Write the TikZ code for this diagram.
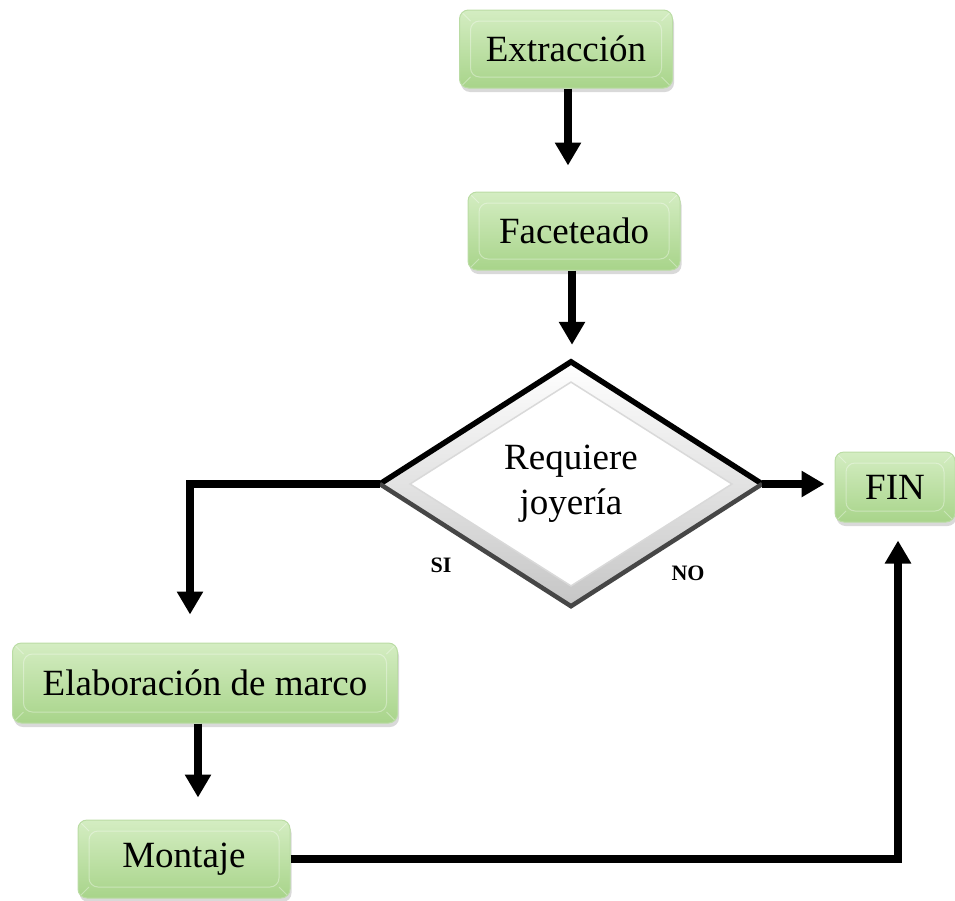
\documentclass[tikz,border=0pt]{standalone}
\usepackage{fontspec}
\setmainfont{Liberation Serif}
\usetikzlibrary{arrows.meta,shapes.geometric,shadows,calc}
\definecolor{gtop}{RGB}{212,237,194}
\definecolor{gbot}{RGB}{168,212,138}
\definecolor{gedge}{RGB}{186,220,164}
\tikzset{
  procbox/.style={rectangle, rounded corners=9pt, top color=gtop, bottom color=gbot,
    draw=gedge, line width=1pt, inner sep=0pt,
    font=\fontsize{37}{44}\selectfont,
    drop shadow={opacity=0.3, shadow xshift=1.5pt, shadow yshift=-4pt},
    path picture={
      \draw[white, opacity=0.35, line width=1pt]
        ([shift={(11pt,-11pt)}]path picture bounding box.north west) rectangle
        ([shift={(-11pt,11pt)}]path picture bounding box.south east);
      \draw[white, opacity=0.35, line width=0.8pt]
        (path picture bounding box.north west) -- ++(11pt,-11pt)
        (path picture bounding box.north east) -- ++(-11pt,-11pt)
        (path picture bounding box.south west) -- ++(11pt,11pt)
        (path picture bounding box.south east) -- ++(-11pt,11pt);
    }},
  dia/.style={diamond, aspect=1.56, minimum width=382pt, minimum height=244pt,
    inner sep=0pt, align=center, font=\fontsize{37}{45}\selectfont,
    top color=white, bottom color=gray!45,
    path picture={
      \fill[white] ([xshift=30pt]path picture bounding box.west) --
        ([yshift=-20pt]path picture bounding box.north) --
        ([xshift=-30pt]path picture bounding box.east) --
        ([yshift=20pt]path picture bounding box.south) -- cycle;
      \draw[gray!30, line width=1.5pt] ([xshift=30pt]path picture bounding box.west) --
        ([yshift=-20pt]path picture bounding box.north) --
        ([xshift=-30pt]path picture bounding box.east) --
        ([yshift=20pt]path picture bounding box.south) -- cycle;
    }},
  flow/.style={line width=7.5pt, line join=miter, -{Triangle[width=25pt,length=23pt]}},
  lbl/.style={font=\fontsize{22}{25}\selectfont\bfseries},
}
\begin{document}
\begin{tikzpicture}[x=1pt,y=-1pt]
\useasboundingbox (0,0) rectangle (955,900);

\node[procbox, minimum width=213pt, minimum height=78pt] (ext) at (566,49) {Extracción};
\node[procbox, minimum width=212pt, minimum height=78pt] (fac) at (574,231) {Faceteado};
\node[dia] (d) at (571,484) {Requiere\\joyería};
\node[procbox, minimum width=120pt, minimum height=70pt] (fin) at (895,487) {FIN};
\node[procbox, minimum width=385pt, minimum height=80pt] (el) at (205,683) {Elaboración de marco};
\node[procbox, minimum width=212pt, minimum height=78pt] (mon) at (184,859) {Montaje};

\draw[black, line width=5.5pt, line join=miter] (d.west) -- (d.north) -- (d.east);
\draw[gray!55!black, line width=4.5pt] (d.west) -- (d.south) -- (d.east);

\node[lbl] (si) at (441,565) {SI};
\node[lbl] (no) at (688,573) {NO};

\draw[flow, shorten >=26pt] ([xshift=2pt]ext.south) -- ([xshift=2pt]ext.south |- fac.north);
\draw[flow, shorten >=17pt] ([xshift=-2pt]fac.south) -- ([xshift=-2pt]fac.south |- d.north);
\draw[flow, shorten >=28pt] (d.west) -| ([xshift=-15pt]el.north);
\draw[flow, shorten >=10pt] (d.east) -- (d.east -| fin.west);
\draw[flow, shorten >=22pt] ([xshift=-7pt]el.south) -- ([xshift=-7pt]el.south |- mon.north);
\draw[flow, shorten >=18pt] (mon.east) -| ([xshift=3pt]fin.south);
\end{tikzpicture}
\end{document}
